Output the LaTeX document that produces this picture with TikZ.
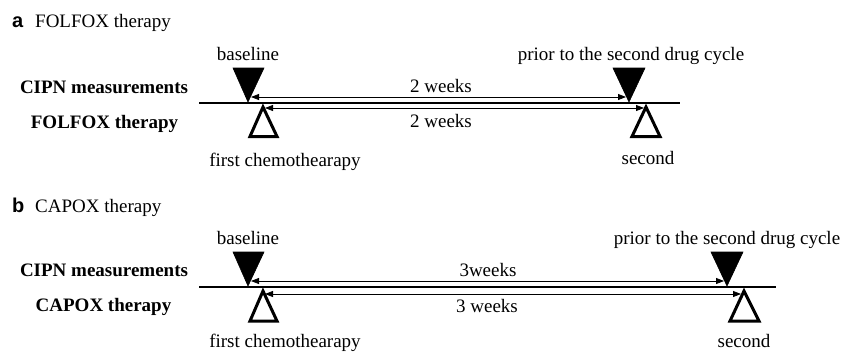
\documentclass[tikz,border=0pt]{standalone}
\usepackage{fontspec}
\setmainfont{Liberation Serif}
\setsansfont{Liberation Sans}
\usetikzlibrary{arrows.meta}
\begin{document}
\begin{tikzpicture}[x=1pt,y=1pt,
  txt/.style={inner sep=0pt, anchor=base, font=\fontsize{19}{22}\selectfont\rmfamily},
  boldtxt/.style={inner sep=0pt, anchor=base, font=\fontsize{19}{22}\selectfont\rmfamily\bfseries},
  panellabel/.style={inner sep=0pt, anchor=base west, font=\fontsize{20}{22}\selectfont\sffamily\bfseries},
  axisline/.style={line width=2pt},
  filltri/.style={fill=black, draw=black, line width=0.6pt, line join=miter},
  opentri/.style={draw=black, fill=white, line width=3pt, line join=miter},
  spanarrow/.style={line width=0.8pt, {Triangle[length=8pt,width=6pt]}-{Triangle[length=8pt,width=6pt]}},
]
\useasboundingbox (0,0) rectangle (856,-354);

% ---------- panel a ----------
\node[panellabel] (la) at (12,-27) {a};
\node[txt, anchor=base west] (ta) at (35,-27) {FOLFOX therapy};
\node[txt] (abase) at (248,-60) {baseline};
\node[txt] (aprior) at (631,-60) {prior to the second drug cycle};
\node[boldtxt] (acipn) at (104,-93) {CIPN measurements};
\node[boldtxt] (athe) at (104.5,-128) {FOLFOX therapy};
\node[txt] (aw1) at (441,-92) {2 weeks};
\node[txt] (aw2) at (441,-127) {2 weeks};
\node[txt] (afirst) at (285,-166) {first chemothearapy};
\node[txt] (asecond) at (648,-164) {second};

\coordinate (al) at (199,-103);
\coordinate (ar) at (680,-103);
\draw[axisline] (al) -- (ar);
\draw[filltri] (233,-68) -- (264,-68) -- (248,-102) -- cycle;
\draw[filltri] (613,-68) -- (645,-68) -- (629,-102) -- cycle;
\draw[opentri] (263,-107) -- (250,-136.5) -- (277,-136.5) -- cycle;
\draw[opentri] (646,-107) -- (632,-136.5) -- (660,-136.5) -- cycle;
\coordinate (au1) at (251,-97);
\coordinate (au2) at (626,-97);
\coordinate (ad1) at (265,-108);
\coordinate (ad2) at (644,-108);
\draw[spanarrow] (au1) -- (au2);
\draw[spanarrow] (ad1) -- (ad2);

% ---------- panel b ----------
\node[panellabel] (lb) at (12,-212) {b};
\node[txt, anchor=base west] (tb) at (35,-212) {CAPOX therapy};
\node[txt] (bbase) at (248,-244) {baseline};
\node[txt] (bprior) at (727,-244) {prior to the second drug cycle};
\node[boldtxt] (bcipn) at (104,-276) {CIPN measurements};
\node[boldtxt] (bthe) at (103.5,-311) {CAPOX therapy};
\node[txt] (bw1) at (488,-276) {3weeks};
\node[txt] (bw2) at (487,-312) {3 weeks};
\node[txt] (bfirst) at (285,-347) {first chemothearapy};
\node[txt] (bsecond) at (744,-347) {second};

\coordinate (bl) at (199,-287);
\coordinate (br) at (776,-287);
\draw[axisline] (bl) -- (br);
\draw[filltri] (233,-252) -- (264,-252) -- (248,-286) -- cycle;
\draw[filltri] (711,-252) -- (743,-252) -- (727,-286) -- cycle;
\draw[opentri] (263,-291) -- (250,-321) -- (277,-321) -- cycle;
\draw[opentri] (744,-291) -- (730,-321) -- (759,-321) -- cycle;
\coordinate (bu1) at (251,-281);
\coordinate (bu2) at (724,-281);
\coordinate (bd1) at (265,-294);
\coordinate (bd2) at (741,-294);
\draw[spanarrow] (bu1) -- (bu2);
\draw[spanarrow] (bd1) -- (bd2);
\end{tikzpicture}
\end{document}
